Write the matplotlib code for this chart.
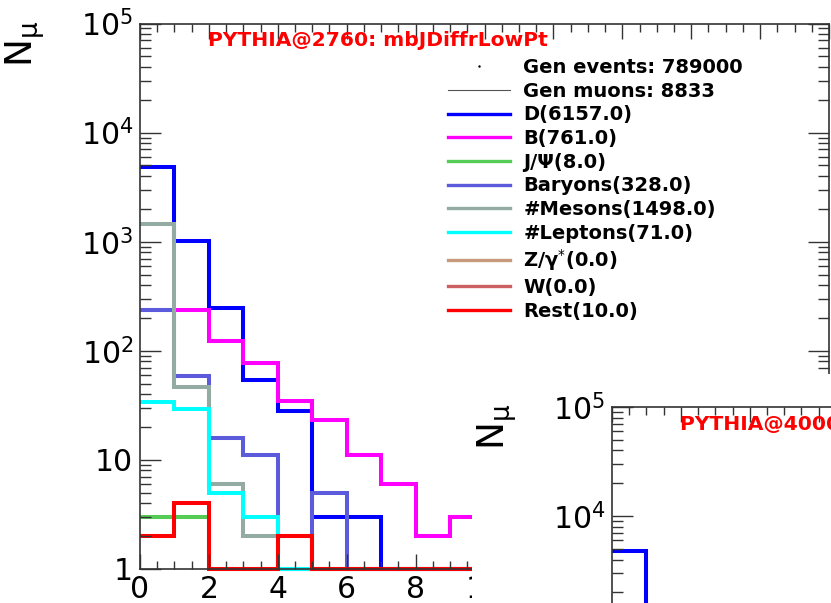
import numpy as np
import matplotlib
matplotlib.use("Agg")
import matplotlib.pyplot as plt
from matplotlib.lines import Line2D
from matplotlib.ticker import MultipleLocator, LogLocator, FuncFormatter, NullFormatter

plt.rcParams["font.family"] = ["DejaVu Sans"]
plt.rcParams["mathtext.fontset"] = "dejavusans"

# muon pt bins (GeV/c), 20 bins of width 1
pt_edges = np.arange(0, 21)

# PYTHIA@2760, muon counts per pt bin by mother category
d_mesons = [4814, 1007, 248, 54, 28, 3, 3, 0, 0, 0, 0, 0, 0, 0, 0, 0, 0, 0, 0, 0]
b_mesons = [235, 239, 122, 78, 35, 23, 11, 6, 2, 3, 0, 0, 0, 0, 0, 0, 0, 0, 0, 0]
jpsi = [3, 3, 0, 0, 0, 0, 0, 0, 0, 0, 0, 0, 0, 0, 0, 0, 0, 0, 0, 0]
baryons = [235, 59, 16, 11, 1, 5, 0, 0, 0, 0, 0, 0, 0, 0, 0, 0, 0, 0, 0, 0]
other_mesons = [1441, 47, 6, 2, 2, 0, 0, 0, 0, 0, 0, 0, 0, 0, 0, 0, 0, 0, 0, 0]
leptons = [34, 29, 5, 3, 0, 0, 0, 0, 0, 0, 0, 0, 0, 0, 0, 0, 0, 0, 0, 0]
z_gamma = [0] * 20
w_boson = [0] * 20
rest = [2, 4, 0, 0, 2, 0, 0, 0, 0, 0, 0, 0, 0, 0, 0, 0, 0, 0, 0, 0]

# PYTHIA@4000, D mesons (first bins)
d_mesons_4000 = [4790, 900]

gen_events = 789000
gen_muons = 8833

series = [
    ("D", d_mesons, 6157.0, "#0000ff"),
    ("B", b_mesons, 761.0, "#ff00ff"),
    ("J/Ψ", jpsi, 8.0, "#55cc55"),
    ("Baryons", baryons, 328.0, "#5b5bdb"),
    ("#Mesons", other_mesons, 1498.0, "#93aba2"),
    ("#Leptons", leptons, 71.0, "#00ffff"),
    ("Z/γ$^{*}$", z_gamma, 0.0, "#c89a7c"),
    ("W", w_boson, 0.0, "#cc6060"),
    ("Rest", rest, 10.0, "#ff0000"),
]

W, H = 831, 603
fig = plt.figure(figsize=(W / 100, H / 100), dpi=100)
fig.patch.set_facecolor("white")


def log_label(v, pos):
    n = int(round(np.log10(v)))
    if n == 0:
        return "1"
    if n == 1:
        return "10"
    return r"$10^{%d}$" % n


def make_pad(x0, y0, title, zorder):
    # frame: 689 x 545 px, placed at pixel offset (x0, y0) from top-left
    ax = fig.add_axes([x0 / W, (H - y0 - 545.5) / H, 689 / W, 545.5 / H], zorder=zorder)
    ax.set_xlim(0, 20)
    ax.set_yscale("log")
    ax.set_ylim(1, 1e5)
    ax.xaxis.set_major_locator(MultipleLocator(2))
    ax.xaxis.set_minor_locator(MultipleLocator(0.5))
    ax.yaxis.set_major_locator(LogLocator(base=10))
    ax.yaxis.set_minor_locator(LogLocator(base=10, subs=np.arange(2, 10)))
    ax.yaxis.set_major_formatter(FuncFormatter(log_label))
    ax.yaxis.set_minor_formatter(NullFormatter())
    ax.tick_params(which="both", direction="in", top=True, right=True,
                   color="#333333", width=1.0, labelsize=21.5)
    ax.tick_params(axis="x", which="major", length=11, pad=4.5)
    ax.tick_params(axis="x", which="minor", length=5.5)
    ax.tick_params(axis="y", which="major", length=15, pad=5)
    ax.tick_params(axis="y", which="minor", length=8)
    for s in ax.spines.values():
        s.set_linewidth(1.2)
        s.set_color("#333333")
    ax.text(68 / 689, 522.5 / 545.5, title, transform=ax.transAxes, color="#ff0000",
            fontsize=14.6, fontweight="bold", ha="left", va="baseline")
    fig.text((x0 - 115) / W, 1 - (y0 + 20) / H, r"N$_{\mathrm{\mu}}$", rotation=90,
             fontsize=27, ha="center", va="center", zorder=zorder)
    return ax


ax = make_pad(140, 23.5, "PYTHIA@2760: mbJDiffrLowPt", 0)

handles = [
    Line2D([], [], ls="none", marker=".", markersize=1.5, color="black"),
    Line2D([], [], lw=0.8, color="#555555"),
]
labels = ["Gen events: %d" % gen_events, "Gen muons: %d" % gen_muons]
for name, vals, total, color in series:
    if total > 0:
        # empty bins sit on the lower frame edge, as in a ROOT log pad
        ax.stairs(np.clip(vals, 1, None), pt_edges, baseline=None, color=color,
                  lw=2.9, clip_on=False)
    handles.append(Line2D([], [], lw=2.4, color=color))
    labels.append("%s(%.1f)" % (name, total))

fig.legend(handles, labels, loc="upper left", bbox_to_anchor=(448 / W, 1 - 58 / H),
           bbox_transform=fig.transFigure, frameon=False, borderpad=0, borderaxespad=0,
           handlelength=3.2, handletextpad=0.68, labelspacing=0.24,
           prop={"weight": "bold", "size": 14})

# second canvas lying on top of the first one
cover = fig.add_axes([472 / W, 0, (W - 472) / W, (H - 374) / H], zorder=1)
cover.set_xticks([])
cover.set_yticks([])
for s in cover.spines.values():
    s.set_visible(False)

ax2 = make_pad(612, 407, "PYTHIA@4000: mbJDiffrLowPt", 2)
ax2.stairs(d_mesons_4000, pt_edges[:len(d_mesons_4000) + 1], baseline=None,
           color="#0000ff", lw=2.9)

fig.savefig("out.png", dpi=100)
